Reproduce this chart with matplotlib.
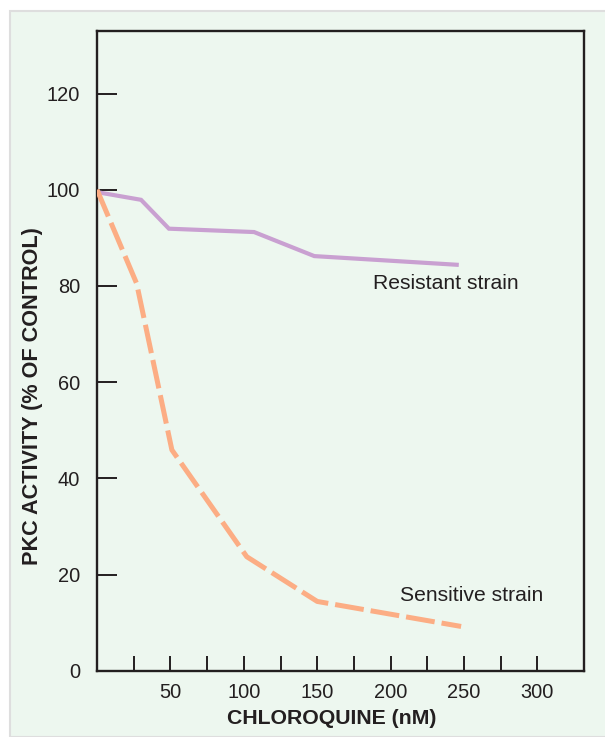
#!/usr/bin/env python3

import matplotlib
matplotlib.use('Agg')
import matplotlib.pyplot as plt
from matplotlib.patches import Rectangle

# chloroquine dose (nM) vs PKC activity (% of control)
resistant_x = [0, 30, 49, 107, 148, 245]
resistant_y = [99.5, 97.9, 91.9, 91.2, 86.2, 84.4]

sensitive_x = [0, 27, 51, 102, 150, 248]
sensitive_y = [100, 80.5, 45.9, 23.7, 14.4, 9.2]

xtick_major = [50, 100, 150, 200, 250, 300]
xtick_minor = [25, 75, 125, 175, 225, 275]
ytick_major = [0, 20, 40, 60, 80, 100, 120]

ink = '#231f20'
bg_color = '#edf7ef'
resistant_color = '#c9a0d1'
sensitive_color = '#fcad84'

plt.rcParams['font.family'] = ['Liberation Sans', 'DejaVu Sans']

W, H = 605, 737
fig = plt.figure(figsize=(W / 100, H / 100), dpi=100)
fig.patch.set_facecolor('white')

# light green panel with a faint grey border
panel = Rectangle((10 / W, 0), 1.0, 1 - 11 / H, transform=fig.transFigure,
                  facecolor=bg_color, edgecolor='#dedede', linewidth=1.5, zorder=-5)
fig.patches.append(panel)

ax = fig.add_axes([97 / W, 1 - 670.7 / H, (584 - 97) / W, (670.7 - 31) / H])
ax.set_facecolor(bg_color)

ax.plot(resistant_x, resistant_y, color=resistant_color, linewidth=3.0,
        solid_joinstyle='miter', zorder=3)
ax.plot(sensitive_x, sensitive_y, color=sensitive_color, linewidth=3.6,
        dashes=(5.8, 1.4), dash_capstyle='butt', zorder=3)

ax.set_xlim(0, 331.7)
ax.set_ylim(0, 133)

for s in ax.spines.values():
    s.set_color(ink)
    s.set_linewidth(1.7)

ax.set_xticks(xtick_major)
ax.set_xticks(xtick_minor, minor=True)
ax.set_yticks(ytick_major)
ax.tick_params(axis='x', which='both', direction='in', length=10.5, width=1.4,
               color=ink, labelcolor=ink, labelsize=14.4, pad=8.5)
ax.tick_params(axis='y', which='both', direction='in', length=14.4, width=1.4,
               color=ink, labelcolor=ink, labelsize=14.4, pad=12)

ax.text(188, 80.6, 'Resistant strain', fontsize=15.2, color=ink, va='center', ha='left')
ax.text(206.4, 15.7, 'Sensitive strain', fontsize=15.2, color=ink, va='center', ha='left')

fig.text(332 / W, 1 - 719 / H, 'CHLOROQUINE (nM)', fontsize=15.3, fontweight='bold',
         color=ink, ha='center', va='center')
fig.text(33 / W, 1 - 396 / H, 'PKC ACTIVITY (% OF CONTROL)', fontsize=15.6,
         fontweight='bold', color=ink, ha='center', va='center', rotation=90)

fig.savefig('out.png', dpi=100, facecolor=fig.get_facecolor())
